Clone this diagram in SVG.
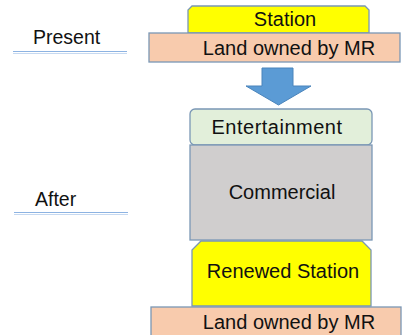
<svg xmlns="http://www.w3.org/2000/svg" width="403" height="335" viewBox="0 0 403 335">
  <style>
    text { font-family: "Liberation Sans", Arial, sans-serif; font-size: 20px; fill: #111; text-anchor: middle; }
    .label { text-anchor: start; font-size: 19.5px; }
    .edge { stroke: #7a97b5; stroke-width: 1.3; }
    .land { fill: #f8cbad; }
    .yellow { fill: #ffff00; }
  </style>
  <rect width="403" height="335" fill="#ffffff"/>

  <!-- Period labels with double underline -->
  <g id="present-label">
    <text class="label" x="33" y="44">Present</text>
    <line x1="13" y1="51.5" x2="127" y2="51.5" stroke="#8db3e2" stroke-width="1.2"/>
    <line x1="13" y1="53.5" x2="127" y2="53.5" stroke="#c6d9f1" stroke-width="1.2"/>
  </g>
  <g id="after-label">
    <text class="label" x="35" y="206">After</text>
    <line x1="14" y1="212.5" x2="128" y2="212.5" stroke="#8db3e2" stroke-width="1.2"/>
    <line x1="14" y1="214.5" x2="128" y2="214.5" stroke="#c6d9f1" stroke-width="1.2"/>
  </g>

  <!-- Present stack -->
  <g id="station">
    <path class="yellow edge" d="M192,6 H365 L369,10 V33 H188 V10 Z"/>
    <text x="285" y="26">Station</text>
  </g>
  <g id="land-present">
    <rect class="land edge" x="149" y="33" width="251" height="29"/>
    <text x="289" y="55">Land owned by MR</text>
  </g>

  <!-- Transition arrow -->
  <g id="connectors">
    <path d="M262,68 H293 V86 H311 L278.5,105 L246,86 H262 Z" fill="#5b9bd5" stroke="#4a84bb" stroke-width="1"/>
  </g>

  <!-- After stack -->
  <g id="entertainment">
    <rect x="190" y="109" width="182" height="36" rx="5" ry="5" fill="#e2efda" class="edge"/>
    <text x="277" y="134" style="letter-spacing:0.5px">Entertainment</text>
  </g>
  <g id="commercial">
    <rect x="190" y="145" width="182" height="95" fill="#d0cece" class="edge"/>
    <text x="282" y="199">Commercial</text>
  </g>
  <g id="renewed-station">
    <path class="yellow edge" d="M201,241 H362 L371,250 V306 H192 V250 Z"/>
    <text x="283" y="278">Renewed Station</text>
  </g>
  <g id="land-after">
    <rect class="land edge" x="151" y="307" width="250" height="30"/>
    <text x="289" y="329">Land owned by MR</text>
  </g>
</svg>
